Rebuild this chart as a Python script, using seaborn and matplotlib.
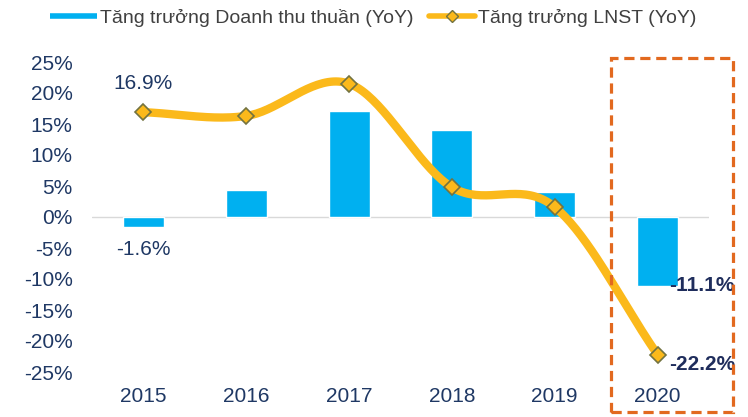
import numpy as np
import pandas as pd
import matplotlib; matplotlib.use("Agg")
import matplotlib.pyplot as plt
import matplotlib.patches as mpatches
from matplotlib.lines import Line2D
import seaborn as sns

years = ["2015", "2016", "2017", "2018", "2019", "2020"]
rev_growth = [-1.6, 4.4, 17.1, 14.0, 4.0, -11.1]      # Tăng trưởng Doanh thu thuần (YoY), %
npat_growth = [16.9, 16.3, 21.5, 4.8, 1.6, -22.2]     # Tăng trưởng LNST (YoY), %
yticks = [25, 20, 15, 10, 5, 0, -5, -10, -15, -20, -25]

BLUE = "#00B0F0"; GOLD = "#FBB91B"; NAVY = "#1F3864"; ORANGE = "#E2691F"

sns.set_style("white")
plt.rcParams["font.family"] = ["Liberation Sans", "DejaVu Sans"]

def catmull_rom(xs, ys, n=40):
    # smooth curve through the points, like Excel's "smoothed line"
    p = np.column_stack([xs, ys]).astype(float)
    p = np.vstack([2 * p[0] - p[1], p, 2 * p[-1] - p[-2]])
    out = []
    t = np.linspace(0, 1, n)[:, None]
    for i in range(1, len(p) - 2):
        p0, p1, p2, p3 = p[i - 1], p[i], p[i + 1], p[i + 2]
        m1, m2 = (p2 - p0) / 2, (p3 - p1) / 2
        h00 = 2 * t**3 - 3 * t**2 + 1; h10 = t**3 - 2 * t**2 + t
        h01 = -2 * t**3 + 3 * t**2; h11 = t**3 - t**2
        out.append(h00 * p1 + h10 * m1 + h01 * p2 + h11 * m2)
    c = np.vstack(out)
    return c[:, 0], c[:, 1]

fig = plt.figure(figsize=(7.48, 4.17), dpi=100)
ax = fig.add_axes([92 / 748, 1 - 372 / 417, (709 - 92) / 748, (372 - 62) / 417])

df = pd.DataFrame({"year": years, "rev": rev_growth, "npat": npat_growth})
sns.barplot(data=df, x="year", y="rev", color=BLUE, saturation=1, width=0.4, ax=ax, zorder=2)
ax.axhline(0, color="#D9D9D9", lw=1, zorder=1)

xs = np.arange(len(years))
cx, cy = catmull_rom(xs, npat_growth)
ax.plot(cx, cy, color=GOLD, lw=6, solid_capstyle="round", zorder=3)
ax.plot(xs, npat_growth, ls="none", marker="D", ms=8, mfc=GOLD, mec="#737340", mew=1.2, zorder=4)

ax.set_xlim(-0.5, 5.5); ax.set_ylim(-25, 25)
ax.set_yticks(yticks); ax.set_yticklabels([f"{v}%" for v in yticks])
ax.set_xlabel(""); ax.set_ylabel("")
ax.tick_params(length=0, labelsize=15, colors=NAVY)
ax.tick_params(axis="y", pad=14); ax.tick_params(axis="x", pad=11)
for s in ax.spines.values(): s.set_visible(False)

# data labels
ax.annotate(f"{npat_growth[0]:.1f}%", (0, npat_growth[0]), xytext=(0, 29), textcoords="offset pixels",
            ha="center", va="center", fontsize=15, color=NAVY)
ax.annotate(f"{rev_growth[0]:.1f}%", (0, rev_growth[0]), xytext=(0, -23), textcoords="offset pixels",
            ha="center", va="center", fontsize=15, color=NAVY)
ax.annotate(f"{rev_growth[5]:.1f}%", (5, rev_growth[5]), xytext=(12, 0), textcoords="offset pixels",
            ha="left", va="center", fontsize=15, color="#1F2D5C", fontweight="bold")
ax.annotate(f"{npat_growth[5]:.1f}%", (5, npat_growth[5]), xytext=(12, -10), textcoords="offset pixels",
            ha="left", va="center", fontsize=15, color="#1F2D5C", fontweight="bold")

# dashed highlight box around 2020
box = mpatches.Rectangle((611 / 748, 1 - 412 / 417), (733 - 611) / 748, (412 - 58) / 417,
                         transform=fig.transFigure, fill=False, ec=ORANGE, lw=2.3,
                         ls=(0, (3.2, 1.8)), clip_on=False, zorder=5)
fig.patches.append(box)

handles = [Line2D([], [], color=BLUE, lw=4, solid_capstyle="butt"),
           Line2D([], [], color=GOLD, lw=4, marker="D", ms=6, mfc=GOLD, mec="#737340", mew=1)]
labels = ["Tăng trưởng Doanh thu thuần (YoY)", "Tăng trưởng LNST (YoY)"]
fig.legend(handles, labels, loc="center left", bbox_to_anchor=(50 / 748, 1 - 18 / 417), ncol=2,
           frameon=False, fontsize=14, labelcolor="#404040", handlelength=2.4, handletextpad=0.15,
           columnspacing=0.8, borderpad=0, borderaxespad=0)

fig.savefig("out.png", dpi=100)
